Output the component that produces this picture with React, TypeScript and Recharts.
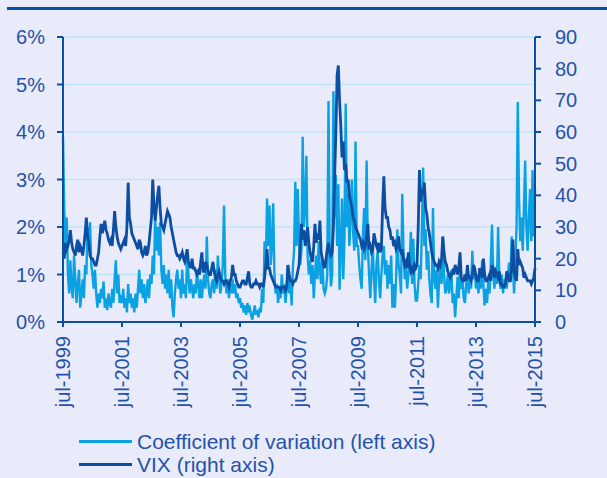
import { LineChart, Line, XAxis, YAxis, CartesianGrid } from "recharts";

// Two points per month, starting in the first half of July 1999.
const tickLabels = [
  "jul-1999", "jul-2001", "jul-2003", "jul-2005", "jul-2007",
  "jul-2009", "jul-2011", "jul-2013", "jul-2015",
];
const tickPeriods = [0, 48, 96, 144, 192, 240, 288, 336, 384];

const cvTicks = [0, 1, 2, 3, 4, 5, 6];
const vixTicks = [0, 10, 20, 30, 40, 50, 60, 70, 80, 90];

// coefficient of variation, %
const cv = [
  3.9, 2.4, 1.6, 2.2, 1.0, 0.6, 1.3, 0.7, 0.5, 1.4, 0.9, 0.4, 0.8, 1.1, 0.3, 0.6, 0.9, 0.5, 1.2, 1.0, 2.0, 1.5, 2.1, 1.2, // 99-00
  1.0, 0.7, 1.1, 0.6, 0.3, 0.6, 0.4, 0.7, 0.5, 0.85, 0.3, 0.5, 0.25, 0.6, 0.4, 0.3, 0.7, 0.4, 0.9, 1.3, 0.6, 1.0, 0.4, 0.5, // 00-01
  0.4, 0.7, 0.3, 0.5, 0.2, 0.8, 0.4, 0.6, 0.3, 0.5, 0.2, 0.6, 0.3, 0.7, 1.1, 0.6, 0.9, 0.5, 0.8, 0.4, 0.6, 0.9, 0.5, 1.0, // 01-02
  0.8, 1.4, 1.0, 2.2, 1.5, 2.0, 1.4, 2.1, 1.1, 0.8, 1.2, 0.7, 1.0, 0.6, 1.1, 0.5, 0.9, 0.3, 0.1, 0.6, 0.9, 1.1, 0.7, 0.9, // 02-03
  0.5, 1.1, 0.6, 0.8, 0.5, 1.4, 1.0, 0.6, 0.9, 0.7, 0.5, 0.8, 0.6, 1.1, 0.8, 0.5, 0.9, 0.5, 0.8, 1.0, 0.7, 1.8, 0.9, 0.6, // 03-04
  0.5, 0.8, 0.9, 0.6, 1.1, 0.7, 1.4, 0.9, 0.6, 0.8, 1.2, 2.45, 1.0, 0.6, 0.9, 0.5, 0.8, 0.6, 0.9, 0.6, 0.8, 0.5, 0.6, 0.4, // 04-05
  0.5, 0.3, 0.4, 0.2, 0.35, 0.15, 0.4, 0.25, 0.3, 0.15, 0.05, 0.2, 0.35, 0.15, 0.25, 0.1, 0.3, 0.2, 0.7, 0.4, 1.7, 1.1, 2.6, 1.6, // 05-06
  2.45, 1.2, 1.6, 2.5, 1.0, 0.6, 0.8, 0.4, 0.7, 0.5, 1.0, 0.6, 0.8, 0.4, 0.7, 1.2, 0.6, 0.9, 0.35, 1.15, 1.5, 2.95, 1.6, 2.8, // 06-07
  1.7, 1.2, 1.5, 3.9, 2.0, 2.4, 3.5, 1.4, 1.0, 1.3, 0.8, 1.2, 0.5, 1.0, 1.4, 0.9, 1.7, 1.1, 0.8, 1.3, 0.7, 0.6, 0.7, 1.0, // 07-08
  4.65, 1.4, 0.75, 1.0, 4.86, 2.2, 3.1, 1.6, 2.9, 0.68, 1.5, 2.6, 0.9, 1.8, 4.6, 2.0, 2.7, 1.6, 2.2, 3.0, 1.9, 1.5, 3.8, 1.6, // 08-09
  1.6, 1.2, 0.9, 0.7, 1.8, 2.4, 1.3, 3.4, 1.6, 1.0, 0.5, 1.1, 1.6, 0.9, 0.4, 1.2, 1.5, 0.9, 0.5, 1.0, 1.4, 1.6, 1.0, 1.3, // 09-10
  0.7, 1.2, 0.8, 1.4, 0.3, 0.8, 0.3, 0.9, 1.95, 1.2, 1.0, 0.6, 2.7, 1.5, 0.9, 1.2, 0.7, 1.0, 1.2, 1.9, 0.8, 1.75, 0.8, 0.45, // 10-11
  0.45, 0.8, 1.2, 0.9, 2.0, 3.25, 1.6, 1.95, 1.1, 1.5, 0.9, 0.6, 0.4, 2.4, 0.9, 0.7, 1.1, 0.3, 0.9, 1.2, 0.8, 1.8, 1.0, 0.6, // 11-12
  0.7, 1.0, 0.6, 0.75, 1.1, 0.4, 0.6, 0.1, 0.5, 0.95, 0.5, 1.2, 0.7, 0.9, 0.5, 0.4, 0.8, 0.95, 0.6, 1.0, 0.7, 1.5, 0.9, 1.1, // 12-13
  0.7, 1.0, 0.6, 0.95, 0.7, 1.3, 0.8, 0.35, 0.7, 0.4, 0.9, 0.6, 1.2, 2.05, 1.0, 0.7, 1.1, 0.8, 2.0, 0.9, 0.7, 1.0, 0.6, 0.9, // 13-14
  0.8, 0.7, 1.0, 1.25, 0.9, 1.8, 1.2, 0.6, 1.3, 2.0, 4.63, 2.6, 1.7, 2.2, 1.5, 2.4, 3.4, 2.0, 1.5, 2.2, 2.8, 1.7, 3.2, 1.8, // 14-15
  2.8,
];

const vix = [
  22, 20, 25, 23, 24, 26, 29, 25, 23, 22, 21, 24, 26, 22, 24, 23, 21, 24, 28, 33, 27, 25, 21, 20,
  20, 19, 18, 18, 20, 22, 27, 31, 28, 30, 32, 29, 28, 26, 25, 26, 24, 29, 35, 30, 27, 25, 24, 23,
  24, 25, 26, 24, 30, 44, 33, 31, 28, 27, 26, 25, 24, 23, 26, 25, 22, 21, 22, 24, 21, 22, 25, 29,
  33, 45, 37, 32, 36, 40, 43, 36, 31, 30, 29, 31, 33, 35, 34, 33, 30, 28, 26, 24, 22, 21, 21, 20,
  21, 22, 20, 19, 21, 23, 19, 18, 17, 20, 17, 17, 16, 15, 16, 15, 19, 22, 16, 16, 19, 18, 16, 15,
  15, 17, 19, 16, 14, 13, 15, 16, 14, 13, 13, 12, 13, 13, 12, 11, 13, 14, 18, 15, 15, 13, 12, 11,
  11, 12, 13, 13, 12, 12, 14, 16, 12, 11, 11, 12, 12, 13, 12, 12, 11, 12, 12, 11, 14, 18, 23, 17,
  17, 15, 14, 13, 12, 11, 11, 11, 11, 10, 11, 11, 11, 10, 11, 18, 15, 13, 13, 12, 13, 13, 14, 16,
  18, 24, 31, 26, 29, 24, 26, 30, 25, 22, 20, 19, 24, 31, 25, 28, 26, 32, 22, 20, 18, 17, 20, 23,
  25, 22, 21, 22, 30, 46, 60, 78, 81, 70, 62, 52, 57, 48, 50, 44, 45, 40, 38, 36, 33, 32, 30, 29,
  28, 27, 26, 24, 25, 23, 24, 27, 31, 23, 24, 22, 23, 28, 26, 24, 23, 25, 22, 23, 36, 46, 36, 33,
  33, 30, 29, 26, 27, 24, 25, 23, 24, 27, 23, 22, 23, 20, 18, 19, 17, 22, 18, 16, 17, 16, 18, 17,
  18, 30, 48, 38, 42, 40, 44, 36, 34, 30, 28, 25, 22, 20, 19, 18, 18, 17, 19, 18, 20, 27, 22, 19,
  18, 16, 15, 14, 15, 16, 15, 18, 17, 15, 17, 22, 14, 13, 13, 15, 13, 18, 14, 14, 13, 15, 18, 17,
  14, 13, 13, 17, 16, 14, 20, 15, 13, 13, 14, 15, 13, 18, 17, 14, 16, 15, 14, 16, 12, 12, 11, 11,
  12, 16, 15, 13, 13, 18, 26, 16, 14, 13, 23, 18, 19, 18, 17, 14, 15, 14, 13, 13, 13, 12, 13, 14,
  17,
];

const DARK = "#0c4ea2";
const LIGHT = "#0aa2e2";
const INK = "#1f54aa";
const FONT = "'Liberation Sans', Arial, sans-serif";

const rows = vix.map((v, i) => ({ i, cv: cv[i], vix: v }));

const DateTick = ({ x, y, payload }: any) => {
  const k = tickPeriods.indexOf(payload.value);
  return (
    <text
      x={x}
      y={y}
      transform={`rotate(-90 ${x} ${y})`}
      textAnchor="end"
      dy="0.36em"
      fill={INK}
      fontSize={20}
      fontFamily={FONT}
    >
      {tickLabels[k]}
    </text>
  );
};

const LegendRow = ({ color, label }: { color: string; label: string }) => (
  <div style={{ display: "flex", alignItems: "center", height: 23 }}>
    <div style={{ width: 53, height: 3, background: color, marginRight: 5 }} />
    <span style={{ color: INK, fontSize: 21, fontFamily: FONT, lineHeight: "23px" }}>{label}</span>
  </div>
);

const App = () => {
  return (
    <div
      style={{
        position: "absolute",
        left: 0,
        top: 0,
        width: 607,
        height: 478,
        background: "#e9eafa",
        overflow: "hidden",
      }}
    >
      <div style={{ position: "absolute", left: 7, right: 0, top: 7, height: 3, background: DARK }} />
      <LineChart width={607} height={478} data={rows} margin={{ top: 37, right: 0, bottom: 56, left: 0 }}>
        <CartesianGrid yAxisId="left" vertical={false} stroke="#bfe5f8" strokeWidth={1.5} />
        <XAxis
          dataKey="i"
          type="number"
          domain={[0, 384]}
          ticks={tickPeriods}
          interval={0}
          height={100}
          tickSize={5}
          tickMargin={9}
          tick={<DateTick />}
          axisLine={{ stroke: DARK, strokeWidth: 2 }}
          tickLine={{ stroke: DARK, strokeWidth: 2 }}
        />
        <YAxis
          yAxisId="left"
          domain={[0, 6]}
          ticks={cvTicks}
          interval={0}
          width={63}
          tickSize={6}
          tickMargin={12}
          tickFormatter={(v) => `${v}%`}
          tick={{ fill: INK, fontSize: 20, fontFamily: FONT }}
          axisLine={{ stroke: DARK, strokeWidth: 2 }}
          tickLine={{ stroke: DARK, strokeWidth: 2 }}
        />
        <YAxis
          yAxisId="right"
          orientation="right"
          domain={[0, 90]}
          ticks={vixTicks}
          interval={0}
          width={72}
          tickSize={6}
          tickMargin={14}
          tick={{ fill: INK, fontSize: 20, fontFamily: FONT }}
          axisLine={{ stroke: DARK, strokeWidth: 2 }}
          tickLine={{ stroke: DARK, strokeWidth: 2 }}
        />
        <Line
          yAxisId="left"
          dataKey="cv"
          stroke={LIGHT}
          strokeWidth={2.4}
          dot={false}
          isAnimationActive={false}
        />
        <Line
          yAxisId="right"
          dataKey="vix"
          stroke={DARK}
          strokeWidth={2.8}
          dot={false}
          isAnimationActive={false}
        />
      </LineChart>
      <div style={{ position: "absolute", left: 79, top: 430 }}>
        <LegendRow color={LIGHT} label="Coefficient of variation (left axis)" />
        <LegendRow color={DARK} label="VIX (right axis)" />
      </div>
    </div>
  );
};

export default App;
